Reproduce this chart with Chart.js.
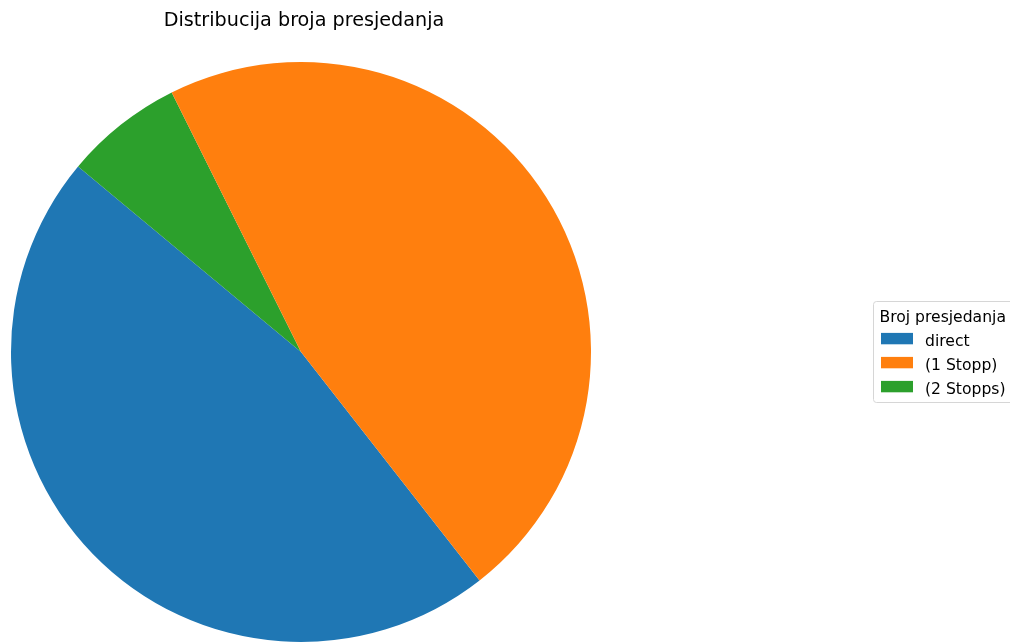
<!DOCTYPE html>
<html><head><meta charset="utf-8">
<script src="https://cdn.jsdelivr.net/npm/chart.js@4"></script>
<style>html,body{margin:0;padding:0;background:#fff;overflow:hidden}</style>
</head><body>
<canvas id="c" width="1010" height="643"></canvas>
<script>
const chartTitle = 'Distribucija broja presjedanja';
const legendTitle = 'Broj presjedanja';
const categories = ['direct', '(1 Stopp)', '(2 Stopps)'];
const shares = [46.6, 46.8, 6.6];
const colors = ['#1f77b4', '#ff7f0e', '#2ca02c'];
// Chart.js draws clockwise; matplotlib drew counter-clockwise, so slices are fed in reverse cyclic order
const drawOrder = [0, 2, 1];

const FONT = '"DejaVu Sans", sans-serif';

const overlay = {
  id: 'overlay',
  afterDraw(chart) {
    const ctx = chart.ctx;
    const a = chart.chartArea;
    ctx.save();
    // title
    ctx.fillStyle = '#000';
    ctx.font = '19.2px ' + FONT;
    ctx.textAlign = 'center';
    ctx.textBaseline = 'alphabetic';
    ctx.fillText(chartTitle, (a.left + a.right) / 2 + 3, 26);
    // legend frame
    const lx = 873.5, ly = 301.5, lw = 150, lh = 101;
    ctx.beginPath();
    ctx.roundRect(lx, ly, lw, lh, 3);
    ctx.fillStyle = 'rgba(255,255,255,0.8)';
    ctx.fill();
    ctx.strokeStyle = '#d6d6d6';
    ctx.lineWidth = 1;
    ctx.stroke();
    // legend title
    ctx.fillStyle = '#000';
    ctx.font = '15.6px ' + FONT;
    ctx.textAlign = 'left';
    ctx.fillText(legendTitle, 879.5, 321.7);
    categories.forEach((cat, i) => {
      const cy = 338.6 + i * 24;
      ctx.fillStyle = colors[i];
      ctx.fillRect(881, cy - 5.7, 32, 11.4);
      ctx.fillStyle = '#000';
      ctx.fillText(cat, 925, cy + 7.2);
    });
    ctx.restore();
  }
};

new Chart(document.getElementById('c'), {
  type: 'pie',
  data: {
    labels: drawOrder.map(i => categories[i]),
    datasets: [{
      data: drawOrder.map(i => shares[i]),
      backgroundColor: drawOrder.map(i => colors[i]),
      borderWidth: 0
    }]
  },
  options: {
    responsive: false,
    animation: false,
    rotation: 142,
    events: [],
    layout: { padding: { left: 11, right: 419, top: 62, bottom: 1 } },
    plugins: {
      legend: { display: false },
      title: { display: false },
      tooltip: { enabled: false }
    }
  },
  plugins: [overlay]
});
</script>
</body></html>
